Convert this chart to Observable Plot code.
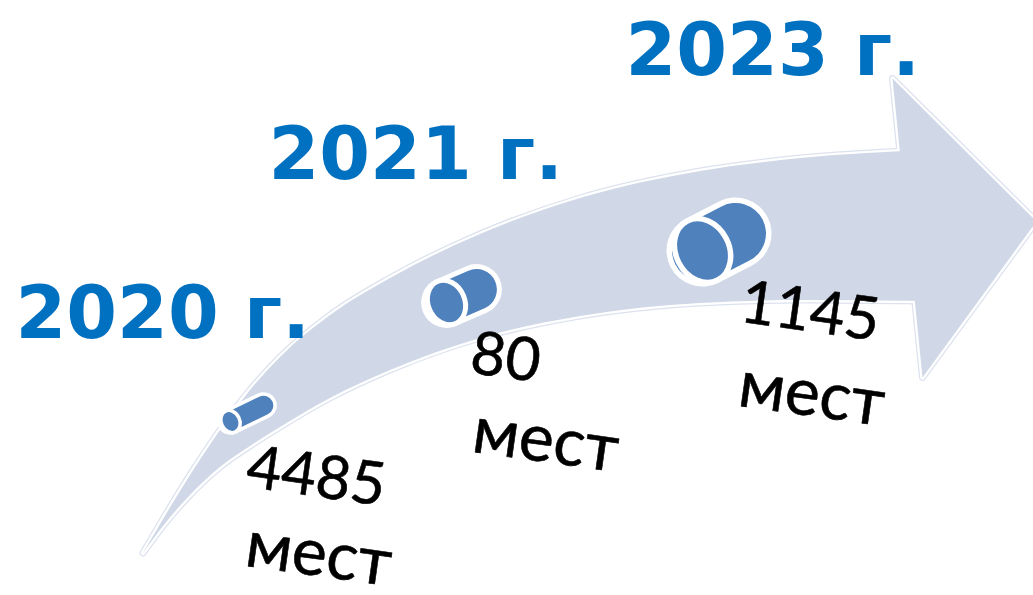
<!DOCTYPE html>
<html>
<head>
<meta charset="utf-8">
<script src="https://cdn.jsdelivr.net/npm/d3@7"></script>
<script src="https://cdn.jsdelivr.net/npm/@observablehq/plot@0.6"></script>
<style>
  html, body { margin: 0; padding: 0; background: #ffffff; }
  #chart svg { display: block; }
</style>
</head>
<body>
<div id="chart"></div>
<script>
// ---- data ----
const years = ["2020 г.", "2021 г.", "2023 г."];
const places = [4485, 80, 1145];
const unit = "мест";

// ---- layout (pixel frame 1033 x 595, y downward) ----
const yearPos = [[15, 337], [268, 178], [625, 74]];
const valuePos = [[244, 486], [468, 372], [738, 321]];
const unitPos = [[243, 565], [470, 451], [736, 405]];
// cylinders: cap centre, back centre, inner radius, outline width
const cylCap = [[230, 421], [446, 302], [702, 250]];
const cylBack = [[263, 405], [476, 289], [735, 233]];
const cylR = [9.8, 20.4, 30.5];
const cylOw = [3.5, 5, 5.5];
// arrow outline
const shaftX =  [143, 163, 190, 220, 250, 280, 330, 390, 480, 580, 700, 800, 925];
const shaftHi = [553, 519, 475, 430, 390, 357, 315, 278, 234, 198, 171, 158, 150];
const shaftLo = [553, 526, 495, 467, 446, 427, 398, 370, 338, 316, 303, 300, 301];
const headX = [892, 1036, 922];
const headY = [78, 221, 377];

// ---- styles ----
const arrowFill = "#d0d8e8";
const cylFill = "#4f81bd";
const yearColor = "#0070c0";

const shaft = shaftX.map((x, i) => ({x, lo: shaftLo[i], hi: shaftHi[i]}));
const head = headX.map((x, i) => ({x, y: headY[i]}));

function arrowLayer(opts) {
  return [
    Plot.areaY(shaft, {x: "x", y1: "lo", y2: "hi", curve: "monotone-x", strokeLinejoin: "round", ...opts}),
    Plot.line(head, {x: "x", y: "y", curve: "linear-closed", strokeLinejoin: "round", ...opts})
  ];
}

// ellipse symbol for the cylinder caps (minor axis along the body axis)
const ASPECT = 0.8;
const ellipse = {
  draw(context, size) {
    const ry = Math.sqrt(size / Math.PI);
    const rx = ry * ASPECT;
    const k = 0.5522847498;
    context.moveTo(rx, 0);
    context.bezierCurveTo(rx, ry * k, rx * k, ry, 0, ry);
    context.bezierCurveTo(-rx * k, ry, -rx, ry * k, -rx, 0);
    context.bezierCurveTo(-rx, -ry * k, -rx * k, -ry, 0, -ry);
    context.bezierCurveTo(rx * k, -ry, rx, -ry * k, rx, 0);
    context.closePath();
  }
};

const cylMarks = [];
cylCap.forEach((c, i) => {
  const b = cylBack[i];
  const R = cylR[i], ow = cylOw[i];
  const ang = Math.atan2(b[1] - c[1], b[0] - c[0]) * 180 / Math.PI;
  const d = [{x1: c[0], y1: c[1], x2: b[0], y2: b[1]}];
  cylMarks.push(
    Plot.link(d, {x1: "x1", y1: "y1", x2: "x2", y2: "y2", stroke: "#ffffff", strokeWidth: 2 * (R + ow), strokeLinecap: "round"}),
    Plot.link(d, {x1: "x1", y1: "y1", x2: "x2", y2: "y2", stroke: cylFill, strokeWidth: 2 * R, strokeLinecap: "round"}),
    Plot.dot(d, {x: "x1", y: "y1", r: R + ow / 2, symbol: ellipse, rotate: ang, fill: cylFill, stroke: "#ffffff", strokeWidth: ow})
  );
});

const yearData = years.map((t, i) => ({t, x: yearPos[i][0], y: yearPos[i][1]}));
const valueData = places.map((v, i) => ({t: String(v), x: valuePos[i][0], y: valuePos[i][1]}));
const unitData = places.map((v, i) => ({t: unit, x: unitPos[i][0], y: unitPos[i][1]}));

const chart = Plot.plot({
  width: 1033,
  height: 595,
  margin: 0,
  x: {domain: [0, 1033], range: [0, 1033], axis: null},
  y: {domain: [0, 595], range: [0, 595], axis: null},
  style: {background: "#ffffff", overflow: "visible"},
  marks: [
    ...arrowLayer({fill: "#dce2ee", stroke: "#dce2ee", strokeWidth: 7}),
    ...arrowLayer({fill: "#ffffff", stroke: "#ffffff", strokeWidth: 4.5}),
    ...arrowLayer({fill: arrowFill, stroke: "none"}),
    ...cylMarks,
    Plot.text(yearData, {x: "x", y: "y", text: "t", textAnchor: "start", lineAnchor: "bottom",
      fontSize: 73, fontWeight: "bold", fontFamily: "DejaVu Sans", fill: yearColor}),
    Plot.text(valueData, {x: "x", y: "y", text: "t", textAnchor: "start", lineAnchor: "bottom", rotate: 8,
      fontSize: 60, fontFamily: "Lato", fill: "#000000", stroke: "#000000", strokeWidth: 0.6}),
    Plot.text(unitData, {x: "x", y: "y", text: "t", textAnchor: "start", lineAnchor: "bottom", rotate: 8,
      fontSize: 66, fontFamily: "Lato", fill: "#000000", stroke: "#000000", strokeWidth: 0.6})
  ]
});
document.getElementById("chart").appendChild(chart);
</script>
</body>
</html>
